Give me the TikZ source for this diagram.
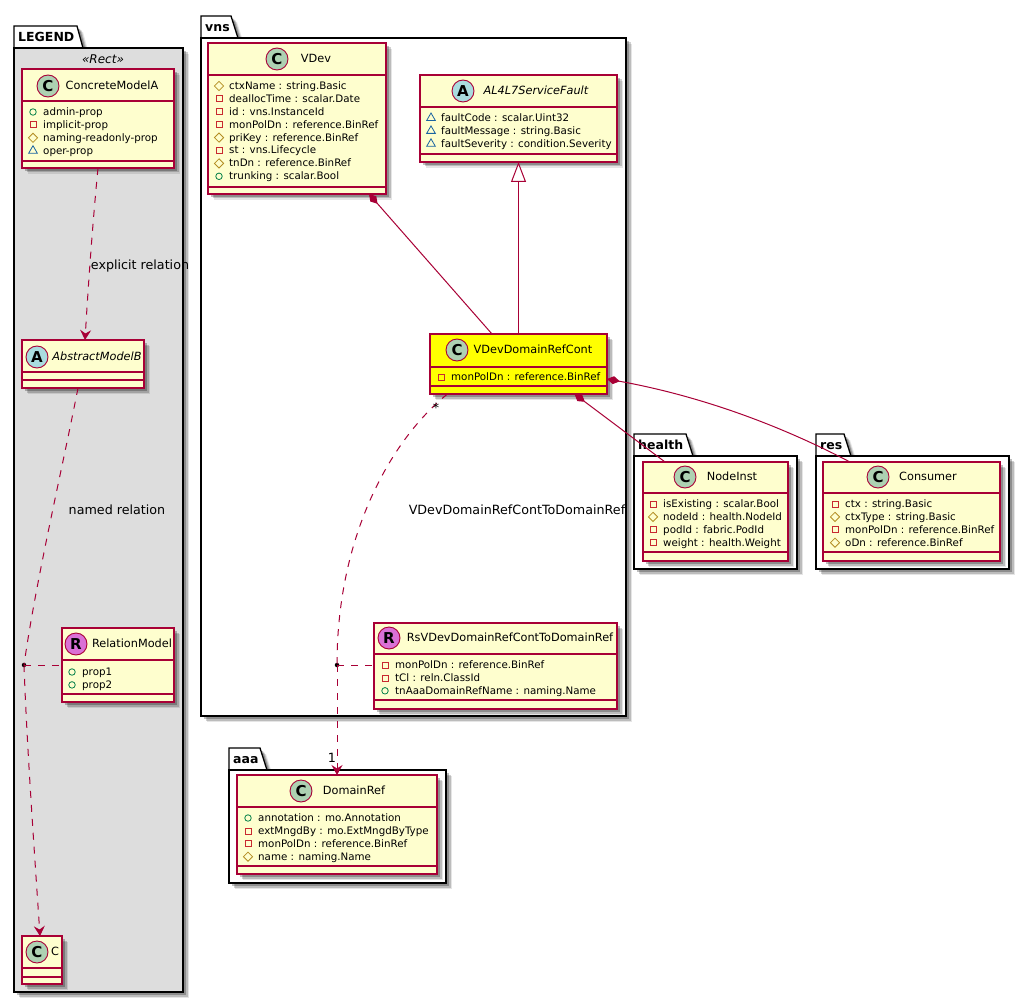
\documentclass[tikz,border=0pt]{standalone}
\usepackage{fontspec}
\setmainfont{DejaVu Sans}
\usetikzlibrary{positioning,arrows.meta,shapes.geometric,shadows}
\definecolor{umlred}{HTML}{A80036}
\definecolor{umlfill}{HTML}{FEFECE}
\definecolor{umlyellow}{HTML}{FFFF00}
\definecolor{spotc}{HTML}{ADD1B2}
\definecolor{spota}{HTML}{A9DCDF}
\definecolor{spotr}{HTML}{DA70D6}
\definecolor{legendgrey}{HTML}{DDDDDD}
\definecolor{pubcol}{HTML}{038048}
\definecolor{privcol}{HTML}{C82930}
\definecolor{protcol}{HTML}{B38D22}
\definecolor{pkgcol}{HTML}{1963A0}
\tikzset{
  softshadow/.style={drop shadow={shadow xshift=6pt, shadow yshift=-6pt, fill=black, opacity=0.1},
    drop shadow={shadow xshift=4.5pt, shadow yshift=-4.5pt, fill=black, opacity=0.18},
    drop shadow={shadow xshift=3pt, shadow yshift=-3pt, fill=black, opacity=0.25}},
  pkgbody/.style={draw=black, line width=1.3pt, softshadow, anchor=north west, outer sep=0pt,
    inner sep=0pt},
  pkgtabshape/.style={draw=black, line width=1.3pt, fill=white, softshadow},
  pkgname/.style={font=\bfseries\fontsize{12.5}{14}\selectfont, anchor=west, inner sep=0pt,
    text height=9.5pt, text depth=0pt},
  cls/.style={draw=umlred, line width=1.2pt, fill=umlfill, softshadow, anchor=north west,
    outer sep=0pt, inner sep=0pt},
  clsline/.style={draw=umlred, line width=1.2pt},
  spot/.style={circle, draw=umlred, line width=0.9pt, fill=#1, minimum size=22pt, inner sep=0pt,
    font=\bfseries\fontsize{15}{15}\selectfont},
  title/.style={inner sep=0pt, text height=9.5pt, text depth=2.5pt,
    font=\fontsize{11.3}{13}\selectfont},
  ititle/.style={title, font=\itshape\fontsize{11.3}{13}\selectfont},
  memb/.style={anchor=west, inner sep=0pt, text height=8.5pt, text depth=1.5pt,
    font=\fontsize{10.3}{12}\selectfont},
  pubm/.style={circle, draw=pubcol, line width=0.8pt, minimum size=6.5pt, inner sep=0pt},
  privm/.style={rectangle, draw=privcol, line width=0.8pt, minimum size=6pt, inner sep=0pt},
  protm/.style={diamond, draw=protcol, line width=0.8pt, minimum size=9.5pt, inner sep=0pt},
  pkgm/.style={regular polygon, regular polygon sides=3, draw=pkgcol, line width=0.8pt,
    minimum size=10pt, inner sep=0pt},
  rel/.style={draw=umlred, line width=1pt},
  dep/.style={rel, dash pattern=on 7pt off 7pt},
  depto/.style={dep, -{Stealth[length=10pt, width=11pt, inset=3.5pt, fill=umlred]}},
  comp/.style={rel, {Diamond[length=13pt, width=8pt, fill=umlred]}-},
  inh/.style={rel, {Triangle[open, length=20pt, width=15pt, fill=white]}-},
  edgelab/.style={inner sep=0pt, text height=9.5pt, text depth=2.5pt,
    font=\fontsize{12.7}{14}\selectfont},
  jointdot/.style={circle, fill=black, minimum size=4.5pt, inner sep=0pt}}
% x, first y, then one visibility/text pair per row
\newcommand{\members}[4]{%
  \foreach \vis/\txt [count=\i] in {#4}{%
    \node[\vis] (#1i\i) at (#2,{#3+12.9*(\i-1)}) {};
    \node[memb] (#1m\i) at ({#2+10},{#3+12.9*(\i-1)}) {\txt};}}
\newcommand{\clsdivs}[3]{%
  \draw[clsline] ([yshift=-#2pt]#1.north west) -- ([yshift=-#2pt]#1.north east);
  \draw[clsline] ([yshift=-#3pt]#1.north west) -- ([yshift=-#3pt]#1.north east);}
\begin{document}
\begin{tikzpicture}[x=1pt,y=-1pt]
  \useasboundingbox (0,0) rectangle (1030,1003);
  % packages
  \draw[pkgtabshape] (14,26) -- (77,26) -- (83,48) -- (14,48) -- cycle;
  \node[pkgbody, fill=legendgrey, minimum width=169pt, minimum height=944pt] (legend) at (14,48) {};
  \node[pkgname] (legendname) at (18,37) {LEGEND};
  \node[font=\itshape\fontsize{12}{13}\selectfont, inner sep=0pt] (legendster) at (103,59) {«Rect»};
  \draw[pkgtabshape] (201,16) -- (231,16) -- (238,38) -- (201,38) -- cycle;
  \node[pkgbody, fill=white, minimum width=425pt, minimum height=678pt] (vns) at (201,38) {};
  \node[pkgname] (vnsname) at (205,27) {vns};
  \draw[pkgtabshape] (229,748) -- (260,748) -- (267,770) -- (229,770) -- cycle;
  \node[pkgbody, fill=white, minimum width=217pt, minimum height=113pt] (aaa) at (229,770) {};
  \node[pkgname] (aaaname) at (233,759) {aaa};
  \draw[pkgtabshape] (634,434) -- (686,434) -- (693,456) -- (634,456) -- cycle;
  \node[pkgbody, fill=white, minimum width=163pt, minimum height=113pt] (health) at (634,456) {};
  \node[pkgname] (healthname) at (638,445) {health};
  \draw[pkgtabshape] (816,434) -- (844,434) -- (851,456) -- (816,456) -- cycle;
  \node[pkgbody, fill=white, minimum width=193pt, minimum height=113pt] (res) at (816,456) {};
  \node[pkgname] (resname) at (820,445) {res};
  % legend classes
  \node[cls, minimum width=152pt, minimum height=99pt] (modela) at (22,69) {};
  \clsdivs{modela}{32}{92}
  \node[spot=spotc] (modelaspot) at (48,86) {C};
  \node[title] (modelaname) at (112,86) {ConcreteModelA};
  \members{modela}{33}{112}{pubm/admin-prop,privm/implicit-prop,protm/naming-readonly-prop,pkgm/oper-prop}
  \node[cls, minimum width=122pt, minimum height=48pt] (modelb) at (22,340) {};
  \clsdivs{modelb}{32}{40}
  \node[spot=spota] (modelbspot) at (37,357) {A};
  \node[ititle] (modelbname) at (97,357) {AbstractModelB};
  \node[cls, minimum width=112pt, minimum height=74pt] (relmodel) at (62,628) {};
  \clsdivs{relmodel}{32}{66}
  \node[spot=spotr] (relmodelspot) at (76,644) {R};
  \node[title] (relmodelname) at (132,644) {RelationModel};
  \members{relmodel}{72}{672}{pubm/prop1,pubm/prop2}
  \node[cls, minimum width=40pt, minimum height=48pt] (modelc) at (22,936) {};
  \clsdivs{modelc}{32}{41}
  \node[spot=spotc] (modelcspot) at (37,952) {C};
  \node[title] (modelcname) at (55,952) {C};
  % vns classes
  \node[cls, minimum width=178pt, minimum height=151pt] (vdev) at (208,43) {};
  \clsdivs{vdev}{32}{144}
  \node[spot=spotc] (vdevspot) at (277,59) {C};
  \node[title] (vdevname) at (316,59) {VDev};
  \members{vdev}{219}{86}{protm/ctxName : string.Basic,privm/deallocTime : scalar.Date,privm/id : vns.InstanceId,privm/monPolDn : reference.BinRef,protm/priKey : reference.BinRef,privm/st : vns.Lifecycle,protm/tnDn : reference.BinRef,pubm/trunking : scalar.Bool}
  \node[cls, minimum width=197pt, minimum height=87pt] (fault) at (420,75) {};
  \clsdivs{fault}{32}{79}
  \node[spot=spota] (faultspot) at (463,91) {A};
  \node[ititle] (faultname) at (536,91) {AL4L7ServiceFault};
  \members{fault}{431}{118}{pkgm/faultCode : scalar.Uint32,pkgm/faultMessage : string.Basic,pkgm/faultSeverity : condition.Severity}
  \node[cls, fill=umlyellow, minimum width=177pt, minimum height=60pt] (refcont) at (430,334) {};
  \clsdivs{refcont}{33}{52}
  \node[spot=spotc] (refcontspot) at (457,350) {C};
  \node[title] (refcontname) at (533,350) {VDevDomainRefCont};
  \members{refcont}{441}{377}{privm/monPolDn : reference.BinRef}
  \node[cls, minimum width=243pt, minimum height=86pt] (rsref) at (374,623) {};
  \clsdivs{rsref}{31}{77}
  \node[spot=spotr] (rsrefspot) at (389,638) {R};
  \node[title] (rsrefname) at (510,638) {RsVDevDomainRefContToDomainRef};
  \members{rsref}{385}{665}{privm/monPolDn : reference.BinRef,privm/tCl : reln.ClassId,pubm/tnAaaDomainRefName : naming.Name}
  % other packages
  \node[cls, minimum width=200pt, minimum height=99pt] (domref) at (237,775) {};
  \clsdivs{domref}{32}{91}
  \node[spot=spotc] (domrefspot) at (301,791) {C};
  \node[title] (domrefname) at (354,791) {DomainRef};
  \members{domref}{248}{818}{pubm/annotation : mo.Annotation,privm/extMngdBy : mo.ExtMngdByType,privm/monPolDn : reference.BinRef,protm/name : naming.Name}
  \node[cls, minimum width=145pt, minimum height=99pt] (nodeinst) at (643,462) {};
  \clsdivs{nodeinst}{31}{90}
  \node[spot=spotc] (nodeinstspot) at (685,477) {C};
  \node[title] (nodeinstname) at (732,477) {NodeInst};
  \members{nodeinst}{653}{504}{privm/isExisting : scalar.Bool,protm/nodeId : health.NodeId,privm/podId : fabric.PodId,privm/weight : health.Weight}
  \node[cls, minimum width=177pt, minimum height=99pt] (consumer) at (823,462) {};
  \clsdivs{consumer}{31}{90}
  \node[spot=spotc] (consumerspot) at (878,477) {C};
  \node[title] (consumername) at (928,477) {Consumer};
  \members{consumer}{835}{504}{privm/ctx : string.Basic,protm/ctxType : string.Basic,privm/monPolDn : reference.BinRef,protm/oDn : reference.BinRef}
  % relations
  \node[jointdot] (legenddot) at (24,665) {};
  \node[jointdot] (refdot) at (337,665) {};
  \draw[depto] (modela.south) .. controls (92,230) and (88,290) .. ([xshift=2pt]modelb.north);
  \draw[dep] ([xshift=-5pt]modelb.south) .. controls (62,470) and (36,580) .. (legenddot.center);
  \draw[depto] (legenddot.center) .. controls (27,750) and (35,860) .. ([xshift=-2pt]modelc.north);
  \draw[dep] (legenddot.center) -- (relmodel.west |- legenddot);
  \draw[comp] ([xshift=72pt]vdev.south) -- ([xshift=-26.5pt]refcont.north);
  \draw[inh] (fault.south) -- (fault.south |- refcont.north);
  \draw[comp] ([xshift=56pt]refcont.south) -- ([xshift=-50.5pt]nodeinst.north);
  \draw[comp] ([yshift=-15pt]refcont.east) .. controls (690,394) and (770,420) .. ([xshift=-61.5pt]consumer.north);
  \draw[dep] ([xshift=-71pt]refcont.south) .. controls (395,436) and (337,530) .. (refdot.center);
  \draw[depto] (refdot.center) -- (refdot |- domref.north);
  \draw[dep] (refdot.center) -- (rsref.west |- refdot);
  % labels
  \node[edgelab] (explicitlab) at (140,266) {explicit relation};
  \node[edgelab] (namedlab) at (117,511) {named relation};
  \node[edgelab] (relnamelab) at (517,511) {VDevDomainRefContToDomainRef};
  \node[edgelab] (starlab) at (436,409) {*};
  \node[edgelab] (onelab) at (332,759) {1};
\end{tikzpicture}
\end{document}
